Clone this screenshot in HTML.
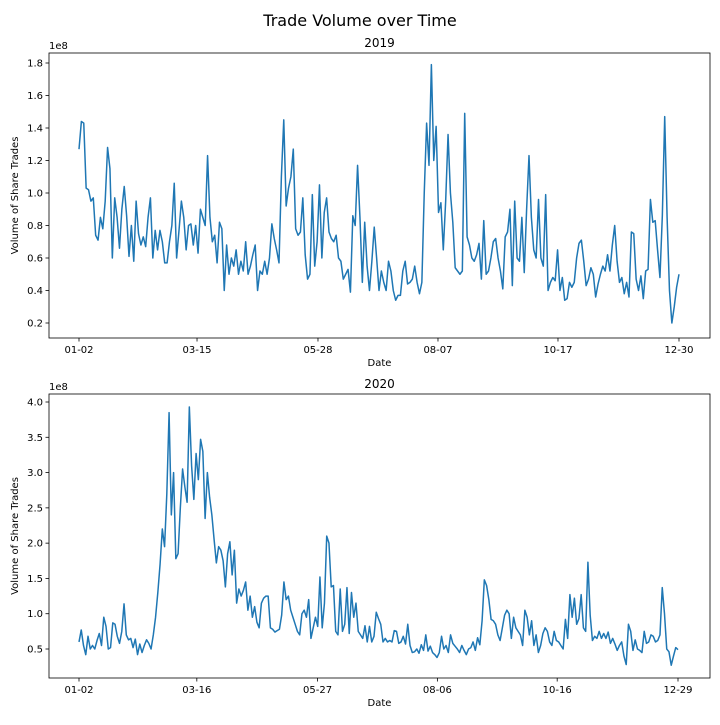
<!DOCTYPE html>
<html><head><meta charset="utf-8"><style>
body{margin:0;background:#fff;font-family:"Liberation Sans","DejaVu Sans",sans-serif}
svg text{font-family:"DejaVu Sans","Liberation Sans",sans-serif;fill:#000}
</style></head><body>
<svg id="c" width="720" height="720" viewBox="0 0 720 720">
<text x="360" y="26" text-anchor="middle" font-size="16">Trade Volume over Time</text>
</svg>
<script>
const vol2019 = [1.27,1.44,1.43,1.03,1.02,0.95,0.97,0.74,0.71,0.85,0.78,0.95,1.28,1.15,0.60,0.97,0.85,0.66,0.90,1.04,0.86,0.61,0.80,0.58,0.95,0.75,0.68,0.73,0.67,0.85,0.97,0.60,0.77,0.65,0.77,0.70,0.57,0.57,0.70,0.80,1.06,0.60,0.77,0.95,0.85,0.65,0.80,0.81,0.68,0.80,0.63,0.90,0.85,0.80,1.23,0.85,0.70,0.74,0.57,0.82,0.78,0.40,0.68,0.50,0.60,0.55,0.65,0.50,0.58,0.52,0.70,0.50,0.55,0.62,0.68,0.40,0.52,0.50,0.58,0.50,0.60,0.81,0.72,0.65,0.57,1.10,1.45,0.92,1.03,1.10,1.27,0.78,0.74,0.76,0.97,0.62,0.47,0.50,0.99,0.55,0.70,1.05,0.60,0.88,0.97,0.76,0.72,0.70,0.74,0.60,0.58,0.47,0.50,0.53,0.39,0.86,0.80,1.17,0.85,0.45,0.82,0.55,0.40,0.58,0.79,0.60,0.40,0.52,0.45,0.40,0.58,0.52,0.40,0.34,0.37,0.37,0.52,0.58,0.44,0.45,0.47,0.55,0.45,0.38,0.45,1.00,1.43,1.17,1.79,1.20,1.41,0.88,0.94,0.65,0.95,1.36,1.00,0.82,0.54,0.52,0.50,0.52,1.49,0.73,0.68,0.60,0.58,0.62,0.69,0.47,0.83,0.50,0.52,0.60,0.70,0.72,0.60,0.52,0.41,0.73,0.76,0.90,0.43,0.95,0.60,0.58,0.85,0.51,0.90,1.23,0.85,0.65,0.60,0.96,0.60,0.55,0.99,0.40,0.45,0.48,0.46,0.65,0.40,0.48,0.34,0.35,0.45,0.42,0.45,0.60,0.69,0.71,0.58,0.43,0.47,0.54,0.50,0.36,0.44,0.50,0.55,0.52,0.62,0.52,0.68,0.80,0.58,0.45,0.48,0.38,0.45,0.36,0.76,0.75,0.47,0.40,0.49,0.35,0.52,0.53,0.96,0.82,0.83,0.65,0.48,0.86,1.47,0.85,0.40,0.20,0.30,0.42,0.50];
const vol2020 = [0.60,0.77,0.55,0.42,0.68,0.50,0.55,0.50,0.62,0.72,0.55,0.95,0.82,0.50,0.52,0.87,0.85,0.68,0.58,0.75,1.14,0.70,0.63,0.65,0.52,0.64,0.42,0.57,0.45,0.55,0.63,0.58,0.50,0.70,0.95,1.30,1.70,2.20,1.95,2.70,3.85,2.40,3.00,1.78,1.85,2.50,3.05,2.80,2.58,3.93,3.10,2.62,3.27,2.90,3.47,3.30,2.35,3.00,2.65,2.40,2.05,1.72,1.95,1.90,1.75,1.38,1.85,2.02,1.55,1.90,1.15,1.35,1.25,1.33,1.45,1.05,1.25,0.95,1.10,0.88,0.80,1.15,1.22,1.25,1.25,0.80,0.78,0.74,0.76,0.78,0.98,1.45,1.20,1.25,1.05,0.95,0.85,0.75,0.70,1.00,1.05,0.95,1.20,0.65,0.80,0.95,0.82,1.52,0.80,1.15,2.10,2.00,1.38,1.40,0.75,0.70,1.35,0.75,0.85,1.37,0.72,1.30,0.95,1.15,0.75,0.70,0.65,0.83,0.60,0.82,0.60,0.68,1.02,0.93,0.85,0.60,0.65,0.60,0.62,0.60,0.76,0.75,0.58,0.60,0.68,0.57,0.85,0.55,0.45,0.46,0.50,0.44,0.56,0.48,0.70,0.47,0.54,0.45,0.42,0.38,0.45,0.68,0.50,0.55,0.45,0.70,0.58,0.54,0.50,0.45,0.55,0.48,0.42,0.50,0.52,0.60,0.48,0.66,0.56,0.90,1.48,1.40,1.20,0.92,0.90,0.85,0.70,0.62,0.80,0.98,1.05,1.00,0.65,0.95,0.80,0.75,0.70,0.55,1.05,0.95,0.70,0.90,0.55,0.70,0.45,0.55,0.72,0.80,0.75,0.60,0.55,0.75,0.62,0.60,0.55,0.50,0.92,0.65,1.27,0.95,1.22,0.85,0.93,1.27,0.80,0.75,1.73,0.98,0.62,0.68,0.65,0.75,0.65,0.72,0.65,0.74,0.58,0.65,0.57,0.48,0.55,0.60,0.40,0.28,0.85,0.75,0.48,0.63,0.50,0.48,0.45,0.75,0.58,0.60,0.70,0.68,0.60,0.62,0.70,1.37,1.00,0.50,0.46,0.27,0.40,0.52,0.49];
const xTickLabels2019 = ["01-02","03-15","05-28","08-07","10-17","12-30"];
const xTickLabels2020 = ["01-02","03-16","05-27","08-06","10-16","12-29"];
const xTickFrac = [0,0.1967,0.3983,0.5983,0.7983,1];
const yTicks2019 = [0.2,0.4,0.6,0.8,1.0,1.2,1.4,1.6,1.8];
const yTicks2020 = [0.5,1.0,1.5,2.0,2.5,3.0,3.5,4.0];

const NS="http://www.w3.org/2000/svg";
const svg=document.getElementById('c');
function el(tag,attrs,parent){const e=document.createElementNS(NS,tag);for(const k in attrs)e.setAttribute(k,attrs[k]);(parent||svg).appendChild(e);return e;}

function panel(cfg){
  const g=el('g',{});
  
  
  const L=49,R=710,T=cfg.top,B=cfg.bottom;
  const x0=79,x1=cfg.xEnd;
  const xs=f=>x0+f*(x1-x0);
  const ys=v=>cfg.yRef+(cfg.vRef-v)*cfg.pxPerUnit;
  const t=el('text',{x:(L+R)/2,y:T-6,'text-anchor':'middle','font-size':12},g);
  t.textContent=cfg.title;
  
  
  const ex=el('text',{x:L,y:T-4,'font-size':10},g);
  ex.textContent='1e8';
  
  
  const data=cfg.data,n=data.length;
  let d='';
  data.forEach((v,i)=>{d+=(i?'L':'M')+xs(i/(n-1)).toFixed(2)+' '+ys(v).toFixed(2);});
  const line=el('path',{d:d,fill:'none',stroke:'#1f77b4','stroke-width':1.5,'stroke-linejoin':'round'},g);
  
  
  const frame=el('rect',{x:L,y:T,width:R-L,height:B-T,fill:'none',stroke:'#000','stroke-width':0.8},g);
  
  
  cfg.xLabels.forEach((lab,i)=>{
    const x=xs(xTickFrac[i]);
    el('line',{x1:x,x2:x,y1:B,y2:B+3.5,stroke:'#000','stroke-width':0.8},g);
    const tx=el('text',{x:x,y:B+15,'text-anchor':'middle','font-size':10},g);
    tx.textContent=lab;
    
    
  });
  cfg.yTicks.forEach(v=>{
    const y=ys(v);
    el('line',{x1:L-3.5,x2:L,y1:y,y2:y,stroke:'#000','stroke-width':0.8},g);
    const ty=el('text',{x:L-6,y:y+3.5,'text-anchor':'end','font-size':10},g);
    ty.textContent=v.toFixed(1);
    
    
  });
  const xl=el('text',{x:(L+R)/2,y:B+28,'text-anchor':'middle','font-size':10},g);
  xl.textContent='Date';
  
  
  const cy=(T+B)/2;
  const yl=el('text',{x:18,y:cy,'text-anchor':'middle','font-size':10,transform:`rotate(-90 18 ${cy})`},g);
  yl.textContent='Volume of Share Trades';
  
  
}
panel({name:'panel-2019',title:'2019',top:53,bottom:338,xEnd:679,data:vol2019,xLabels:xTickLabels2019,yTicks:yTicks2019,yRef:323,vRef:0.2,pxPerUnit:162.5});
panel({name:'panel-2020',title:'2020',top:394,bottom:678,xEnd:678,data:vol2020,xLabels:xTickLabels2020,yTicks:yTicks2020,yRef:649,vRef:0.5,pxPerUnit:70.57});
</script>
</body></html>
